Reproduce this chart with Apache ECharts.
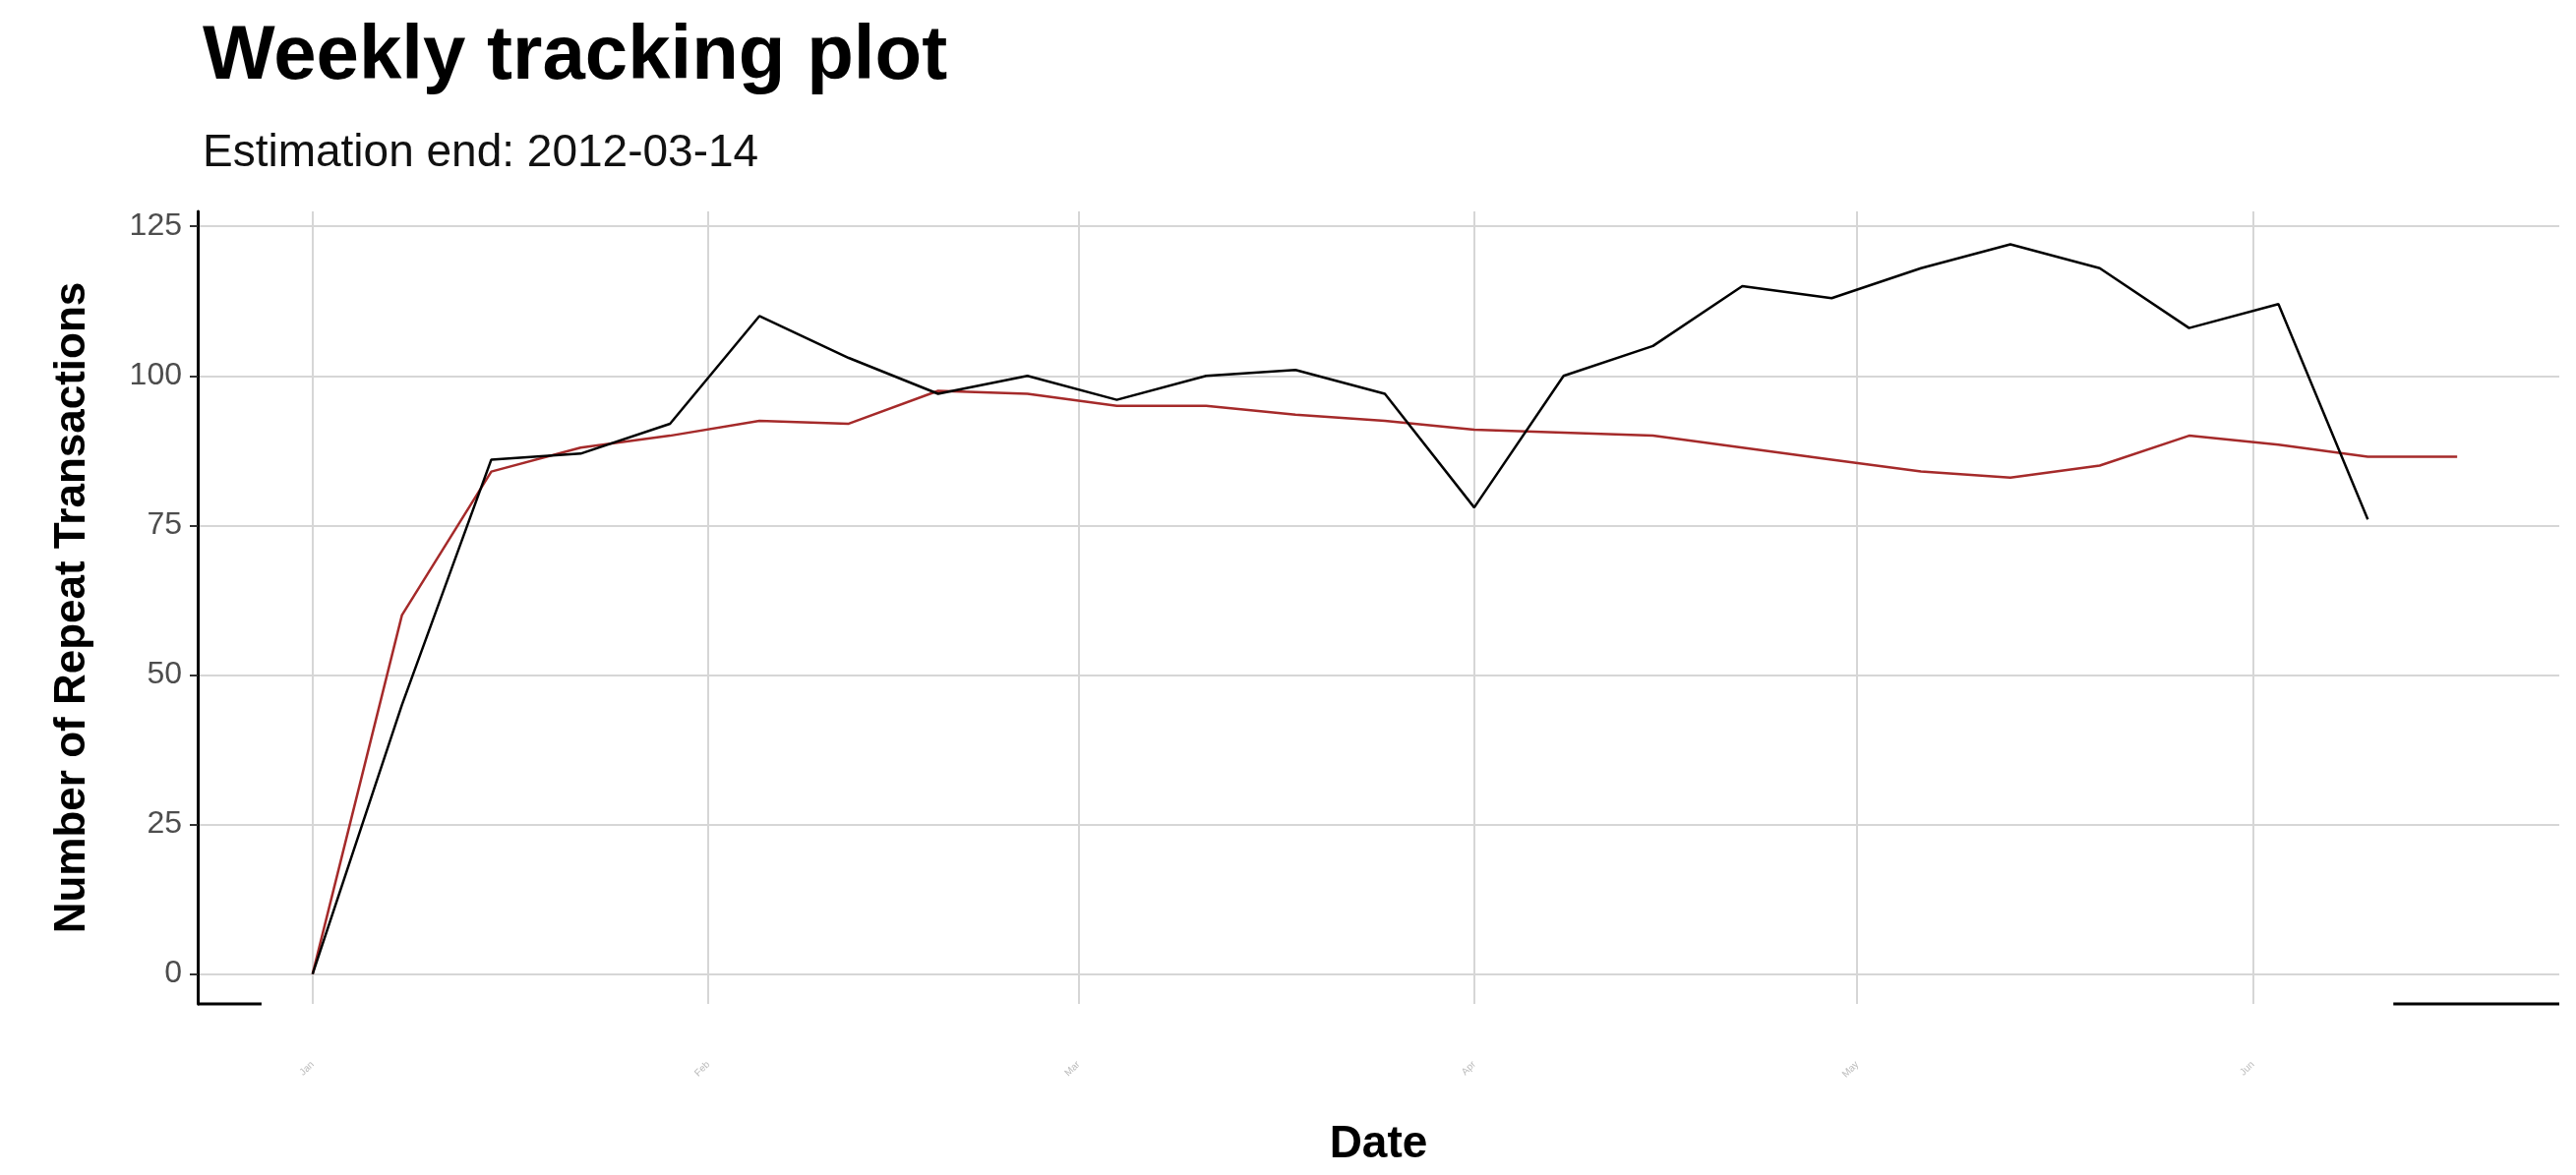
<!DOCTYPE html>
<html><head><meta charset="utf-8">
<script src="https://cdn.jsdelivr.net/npm/echarts@6/dist/echarts.min.js"></script>
<style>html,body{margin:0;padding:0;background:#fff}#c{width:2619px;height:1195px}</style>
</head><body><div id="c"></div>
<script>
const startDate = '2012-01-01';
const actual = [0,45,86,87,92,110,103,97,100,96,100,101,97,78,100,105,115,113,118,122,118,108,112,76];
const expected = [0,60,84,88,90,92.5,92,97.5,97,95,95,93.5,92.5,91,90.5,90,88,86,84,83,85,90,88.5,86.5,86.5];
const yTicks = [0,25,50,75,100,125];

const DAY = 86400000;
const t0 = Date.parse(startDate + 'T00:00:00Z');
const weekDate = i => t0 + i * 7 * DAY;
const actualData = actual.map((v, i) => [weekDate(i), v]);
const expectedData = expected.map((v, i) => [weekDate(i), v]);

const chart = echarts.init(document.getElementById('c'));
const option = {
  animation: false,
  backgroundColor: '#fff',
  title: [
    {text: 'Weekly tracking plot', left: 201, top: 14, textStyle: {fontFamily: 'Liberation Sans', fontWeight: 'bold', fontSize: 78, color: '#000'}},
    {text: 'Estimation end: 2012-03-14', left: 201, top: 128, textStyle: {fontFamily: 'Liberation Sans', fontWeight: 'normal', fontSize: 46, color: '#111'}}
  ],
  grid: {left: 201, right: 17, top: 215, bottom: 174},
  xAxis: {
    type: 'time', useUTC: true,
    min: Date.parse('2011-12-23T00:00:00Z'), max: Date.parse('2012-06-25T00:00:00Z'),
    minInterval: 28 * DAY, maxInterval: 31 * DAY, splitNumber: 6,
    name: 'Date', nameLocation: 'middle', nameGap: 120,
    nameTextStyle: {fontFamily: 'Liberation Sans', fontWeight: 'bold', fontSize: 46, color: '#000'},
    axisLine: {show: false}, axisTick: {show: false},
    axisLabel: {show: true, rotate: 45, fontSize: 10, color: '#bbb', margin: 60, formatter: '{MMM}'},
    splitLine: {show: true, showMinLine: false, showMaxLine: false, lineStyle: {color: '#d6d6d6', width: 2}}
  },
  yAxis: {
    type: 'value', min: -5, max: 127.5, interval: 25,
    name: 'Number of Repeat Transactions', nameLocation: 'middle', nameGap: 105,
    nameTextStyle: {fontFamily: 'Liberation Sans', fontWeight: 'bold', fontSize: 44, color: '#000'},
    axisLine: {show: true, onZero: false, lineStyle: {color: '#000', width: 3}},
    axisTick: {show: true, length: 8, lineStyle: {color: '#333', width: 2}},
    axisLabel: {fontFamily: 'Liberation Sans', fontSize: 32, color: '#4d4d4d', margin: 16,
      customValues: yTicks},
    splitLine: {show: true, lineStyle: {color: '#d6d6d6', width: 2}},
    showMinLabel: false, showMaxLabel: false
  },
  series: [
    {name: 'Actual', type: 'line', data: actualData, showSymbol: false, lineStyle: {color: '#000', width: 2.5}, itemStyle: {color: '#000'}, z: 3},
    {name: 'Expected', type: 'line', data: expectedData, showSymbol: false, lineStyle: {color: '#a52a2a', width: 2.5}, itemStyle: {color: '#a52a2a'}, z: 2}
  ]
};
option.yAxis.axisTick.customValues = yTicks;
option.yAxis.splitLine.customValues = yTicks;
chart.setOption(option);

// broken bottom axis segments (decoration at the ends of the x range)
const yPix = chart.convertToPixel({gridIndex: 0}, [option.xAxis.min, -5])[1];
const xL = chart.convertToPixel({gridIndex: 0}, [option.xAxis.min, 0])[0];
const xL2 = chart.convertToPixel({gridIndex: 0}, [Date.parse('2011-12-28T00:00:00Z'), 0])[0];
const xR1 = chart.convertToPixel({gridIndex: 0}, [Date.parse('2012-06-12T00:00:00Z'), 0])[0];
const xR = chart.convertToPixel({gridIndex: 0}, [option.xAxis.max, 0])[0];
chart.setOption({graphic: [
  {type: 'line', shape: {x1: xL, y1: yPix, x2: xL2, y2: yPix}, style: {stroke: '#000', lineWidth: 3}},
  {type: 'line', shape: {x1: xR1, y1: yPix, x2: xR, y2: yPix}, style: {stroke: '#000', lineWidth: 3}}
]});
</script></body></html>
